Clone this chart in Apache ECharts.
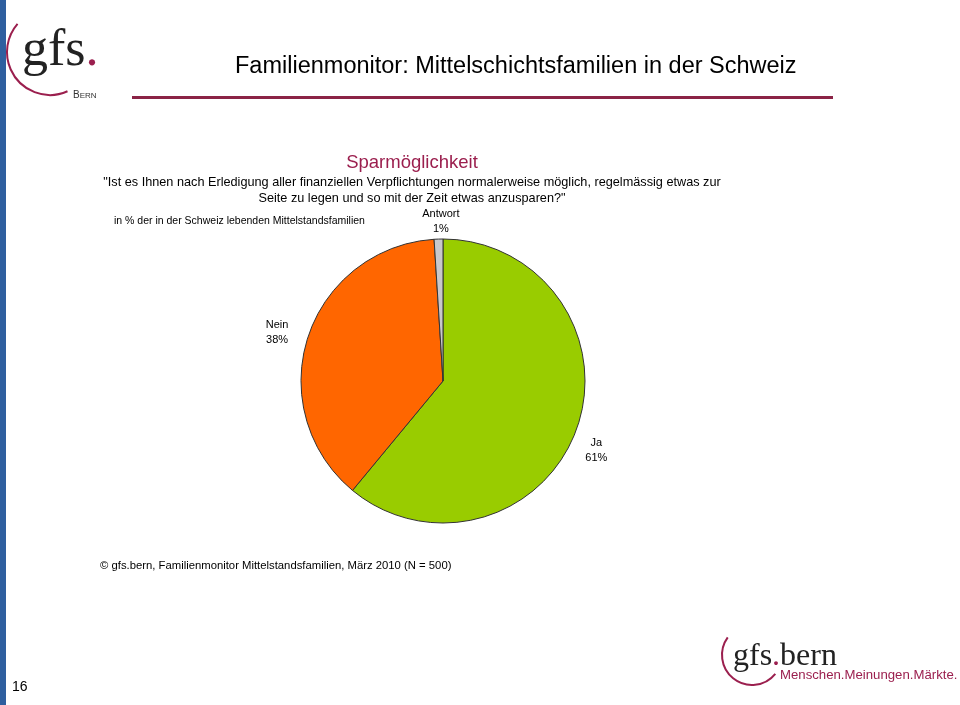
<!DOCTYPE html>
<html><head><meta charset="utf-8">
<script src="https://cdn.jsdelivr.net/npm/echarts@6/dist/echarts.min.js"></script>
<style>html,body{margin:0;padding:0;background:#fff}#c{width:960px;height:705px}</style>
</head><body><div id="c"></div>
<script>
const categories = ['Ja', 'Nein', 'Antwort'];
const values = [61, 38, 1];
const colors = ['#99cc00', '#ff6600', '#c8c8cc'];

const chart = echarts.init(document.getElementById('c'));
const magenta = '#9b1f4e';
const F = '"Liberation Sans", Arial, sans-serif';
const S = '"Liberation Serif", serif';
const labelShift = [{dx: -6, dy: 14}, {dx: -5, dy: 2}, {dx: 8, dy: 4}];
const deg = Math.PI / 180;
chart.setOption({
  animation: false,
  backgroundColor: '#fff',
  title: [
    {text: 'Familienmonitor: Mittelschichtsfamilien in der Schweiz', left: 235, top: 55, padding: 0,
     textStyle: {fontFamily: F, fontSize: 23.5, fontWeight: 'normal', color: '#000'}},
    {text: 'Sparmöglichkeit', left: 412, top: 153, textAlign: 'center', padding: 0,
     textStyle: {fontFamily: F, fontSize: 18.5, fontWeight: 'normal', color: magenta}},
    {text: '"Ist es Ihnen nach Erledigung aller finanziellen Verpflichtungen normalerweise möglich, regelmässig etwas zur\nSeite zu legen und so mit der Zeit etwas anzusparen?"',
     left: 412, top: 174, textAlign: 'center', padding: 0,
     textStyle: {fontFamily: F, fontSize: 12.7, fontWeight: 'normal', color: '#000', lineHeight: 16, align: 'center'}},
    {text: 'in % der in der Schweiz lebenden Mittelstandsfamilien', left: 114, top: 216, padding: 0,
     textStyle: {fontFamily: F, fontSize: 10.5, fontWeight: 'normal', color: '#000'}},
    {text: '© gfs.bern, Familienmonitor Mittelstandsfamilien, März 2010 (N = 500)', left: 100, top: 560, padding: 0,
     textStyle: {fontFamily: F, fontSize: 11.3, fontWeight: 'normal', color: '#000'}},
    {text: '16', left: 12, top: 680, padding: 0, textStyle: {fontFamily: F, fontSize: 14, fontWeight: 'normal', color: '#000'}}
  ],
  series: [{
    type: 'pie',
    center: [443, 381],
    radius: 142,
    startAngle: 90,
    clockwise: true,
    data: categories.map((c, i) => ({name: c, value: values[i], itemStyle: {color: colors[i]}})),
    itemStyle: {borderColor: '#333', borderWidth: 1},
    label: {show: true, position: 'outside', formatter: '{b}\n{d}%', fontFamily: F, fontSize: 11,
            color: '#000', lineHeight: 15, align: 'center'},
    labelLine: {show: false, length: 22, length2: 0},
    labelLayout: function (p) { const s = labelShift[p.dataIndex]; return {align: 'center', dx: s.dx, dy: s.dy}; },
    emphasis: {disabled: true}
  }],
  graphic: [
    {type: 'rect', shape: {x: 0, y: 0, width: 6, height: 705}, style: {fill: '#2f5f9f'}},
    {type: 'rect', shape: {x: 132, y: 96, width: 701, height: 3}, style: {fill: '#8b2346'}},
    {type: 'arc', shape: {cx: 50, cy: 52, r: 43, startAngle: 66 * deg, endAngle: 221 * deg, clockwise: true},
     style: {stroke: magenta, lineWidth: 2, fill: null}},
    {type: 'text', x: 22, y: 25, style: {text: '{a|gfs}{b|.}', rich: {
      a: {fontFamily: S, fontSize: 52, fill: '#222'},
      b: {fontFamily: S, fontSize: 52, fill: magenta}}}},
    {type: 'text', x: 73, y: 90, style: {text: '{a|B}{b|ERN}', rich: {
      a: {fontFamily: F, fontSize: 10, fill: '#333', verticalAlign: 'bottom'},
      b: {fontFamily: F, fontSize: 8, fill: '#333', verticalAlign: 'bottom'}}}},
    {type: 'arc', shape: {cx: 752, cy: 655, r: 30, startAngle: 39 * deg, endAngle: 216 * deg, clockwise: true},
     style: {stroke: magenta, lineWidth: 2, fill: null}},
    {type: 'text', x: 733, y: 641, style: {text: '{a|gfs}{b|.}{a|bern}', rich: {
      a: {fontFamily: S, fontSize: 32, fill: '#222'},
      b: {fontFamily: S, fontSize: 32, fill: magenta}}}},
    {type: 'text', x: 780, y: 669, style: {text: 'Menschen.Meinungen.Märkte.', fontFamily: F, fontSize: 13.2, fill: magenta}}
  ]
});
</script></body></html>
